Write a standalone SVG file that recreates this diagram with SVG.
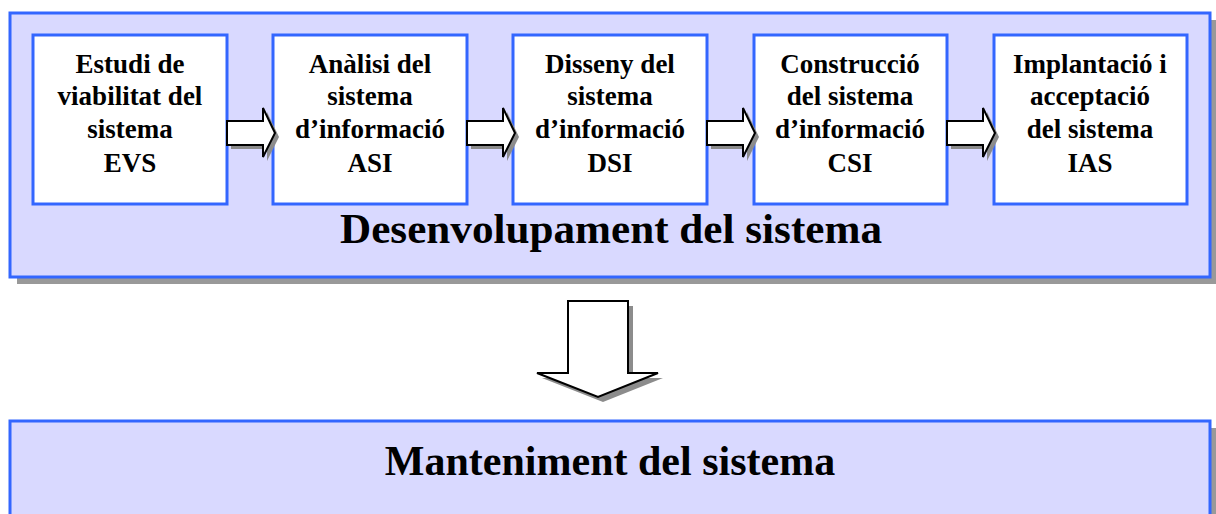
<svg xmlns="http://www.w3.org/2000/svg" width="1216" height="514" viewBox="0 0 1216 514">
<style>
.panel{fill:#D9D9FF;stroke:#3366FF;stroke-width:3}
.shadow{fill:#999999}
.box{fill:#FFFFFF;stroke:#3366FF;stroke-width:3}
.arrow{fill:#FFFFFF;stroke:#000000;stroke-width:2;stroke-linejoin:miter}
.ashadow{fill:#8C8C8C}
.lbl{font-family:"Liberation Serif","Times New Roman",serif;font-weight:bold;font-size:27px;fill:#000;text-anchor:middle}
.big{font-family:"Liberation Serif","Times New Roman",serif;font-weight:bold;font-size:42px;fill:#000;text-anchor:middle}
</style>
<defs>
<polygon id="rarrow" points="0,121 36,121 36,108 48,133 36,157 36,145 0,145"/>
</defs>
<rect width="1216" height="514" fill="#FFFFFF"/>
<g id="desenvolupament">
<rect class="shadow" x="17" y="20" width="1200" height="264"/>
<rect class="panel" x="10" y="13" width="1200" height="264"/>
<text class="big" x="611" y="243" textLength="542" lengthAdjust="spacingAndGlyphs">Desenvolupament del sistema</text>
</g>
<g id="manteniment">
<rect class="shadow" x="17" y="428" width="1200" height="100"/>
<rect class="panel" x="10" y="421" width="1200" height="110"/>
<text class="big" x="610" y="475">Manteniment del sistema</text>
</g>
<g id="evs" font-family="Liberation Serif, Times New Roman, serif" font-weight="bold" font-size="27" text-anchor="middle" fill="#000">
<rect class="box" x="33" y="35" width="194" height="169"/>
<text class="lbl" x="130" y="73">Estudi de</text>
<text class="lbl" x="130" y="105">viabilitat del</text>
<text class="lbl" x="130" y="138">sistema</text>
<text class="lbl" x="130" y="172">EVS</text>
</g>
<g id="asi" font-family="Liberation Serif, Times New Roman, serif" font-weight="bold" font-size="27" text-anchor="middle" fill="#000">
<rect class="box" x="273" y="35" width="194" height="169"/>
<text class="lbl" x="370" y="73">Anàlisi del</text>
<text class="lbl" x="370" y="105">sistema</text>
<text class="lbl" x="370" y="138">d’informació</text>
<text class="lbl" x="370" y="172">ASI</text>
</g>
<g id="dsi" font-family="Liberation Serif, Times New Roman, serif" font-weight="bold" font-size="27" text-anchor="middle" fill="#000">
<rect class="box" x="513" y="35" width="194" height="169"/>
<text class="lbl" x="610" y="73">Disseny del</text>
<text class="lbl" x="610" y="105">sistema</text>
<text class="lbl" x="610" y="138">d’informació</text>
<text class="lbl" x="610" y="172">DSI</text>
</g>
<g id="csi" font-family="Liberation Serif, Times New Roman, serif" font-weight="bold" font-size="27" text-anchor="middle" fill="#000">
<rect class="box" x="754" y="35" width="193" height="169"/>
<text class="lbl" x="850" y="73">Construcció</text>
<text class="lbl" x="850" y="105">del sistema</text>
<text class="lbl" x="850" y="138">d’informació</text>
<text class="lbl" x="850" y="172">CSI</text>
</g>
<g id="ias" font-family="Liberation Serif, Times New Roman, serif" font-weight="bold" font-size="27" text-anchor="middle" fill="#000">
<rect class="box" x="994" y="35" width="193" height="169"/>
<text class="lbl" x="1090" y="73">Implantació i</text>
<text class="lbl" x="1090" y="105">acceptació</text>
<text class="lbl" x="1090" y="138">del sistema</text>
<text class="lbl" x="1090" y="172">IAS</text>
</g>
<g id="connectors">
<use href="#rarrow" class="ashadow" x="231" y="4"/>
<use href="#rarrow" class="arrow" x="227" y="0"/>
<use href="#rarrow" class="ashadow" x="471" y="4"/>
<use href="#rarrow" class="arrow" x="467" y="0"/>
<use href="#rarrow" class="ashadow" x="711" y="4"/>
<use href="#rarrow" class="arrow" x="707" y="0"/>
<use href="#rarrow" class="ashadow" x="951" y="4"/>
<use href="#rarrow" class="arrow" x="947" y="0"/>
<polygon class="ashadow" points="573,306 633,306 633,378 663,378 603,402 542,378 573,378"/>
<polygon class="arrow" points="568,301 628,301 628,373 658,373 598,397 537,373 568,373"/>
</g>
</svg>
